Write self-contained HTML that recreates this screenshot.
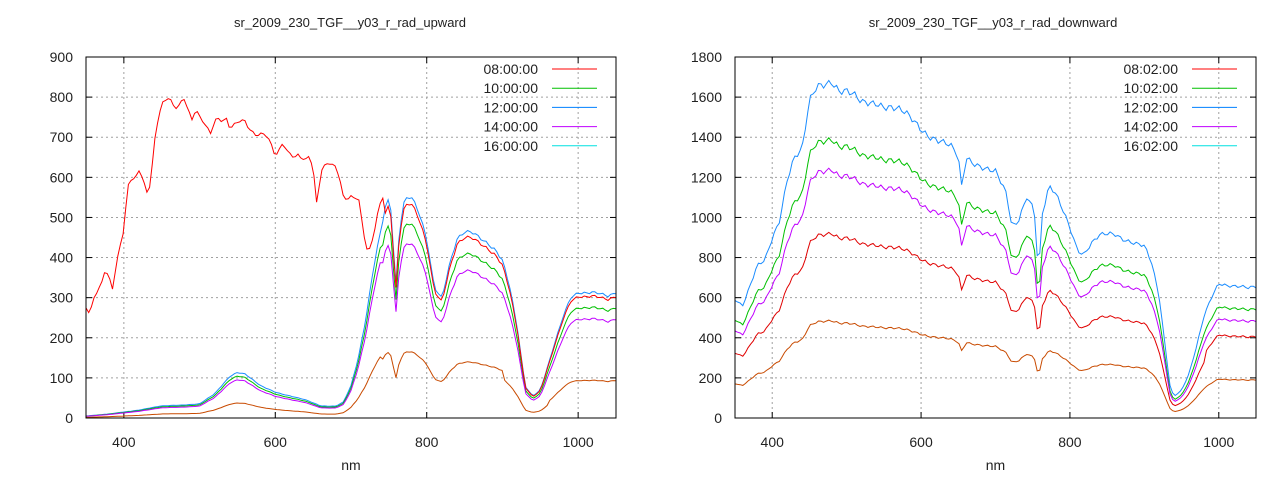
<!DOCTYPE html>
<html><head><meta charset="utf-8"><style>
body{margin:0;background:#fff;}
svg{display:block;font-family:"Liberation Sans",sans-serif;}
</style></head><body>
<svg id="s" width="1280" height="480" xmlns="http://www.w3.org/2000/svg"></svg>
<script>
const S=document.getElementById('s');let h='';
function lerp(arr,x){for(let i=0;i<arr.length-1;i++){if(x>=arr[i][0]&&x<=arr[i+1][0]){const t=(x-arr[i][0])/(arr[i+1][0]-arr[i][0]);return arr[i][1]+t*(arr[i+1][1]-arr[i][1]);}}return arr[arr.length-1][1];}
function noise(x){return Math.sin(x*1.7)*0.6+Math.sin(x*0.53+1)*0.4;}
function plot(o){
 const {x0,x1,y0,y1,ymax,ystep,title,cx}=o;
 const X=v=>x0+(v-350)/(1050-350)*(x1-x0), Y=v=>y1-(v/ymax)*(y1-y0);
 h+=`<text x="${cx}" y="27" font-size="13" text-anchor="middle" fill="#222">${title}</text>`;
 for(let v=0;v<=ymax;v+=ystep){const y=Y(v);
  if(v>0&&v<ymax)h+=`<line x1="${x0}" x2="${x1}" y1="${y}" y2="${y}" stroke="#a0a0a0" stroke-dasharray="2,3"/>`;
  h+=`<line x1="${x0}" x2="${x0+6}" y1="${y}" y2="${y}" stroke="#000"/><line x1="${x1-6}" x2="${x1}" y1="${y}" y2="${y}" stroke="#000"/>`;
  h+=`<text x="${x0-13}" y="${y+5}" font-size="14" text-anchor="end" fill="#222">${v}</text>`;}
 for(let v=400;v<=1000;v+=200){const x=X(v);
  h+=`<line x1="${x}" x2="${x}" y1="${y0}" y2="${y1}" stroke="#a0a0a0" stroke-dasharray="2,3"/>`;
  h+=`<line x1="${x}" x2="${x}" y1="${y1-6}" y2="${y1}" stroke="#000"/><line x1="${x}" x2="${x}" y1="${y0}" y2="${y0+6}" stroke="#000"/>`;
  h+=`<text x="${x}" y="${y1+29}" font-size="14" text-anchor="middle" fill="#222">${v}</text>`;}
 h+=`<text x="${(x0+x1)/2}" y="470" font-size="14" text-anchor="middle" fill="#222">nm</text>`;
 for(const s of o.series){let p=[];for(let w=350;w<=1050;w+=3.5){let v=s.f(w);v=Math.max(0,Math.min(ymax,v));p.push(X(w).toFixed(1)+','+Y(v).toFixed(1));}
  h+=`<polyline points="${p.join(' ')}" fill="none" stroke="${s.c}" stroke-width="1"/>`;}
 const lc=['#ff0000','#00c000','#0080ff','#c000ff','#00e0e0'];
 o.leg.forEach((t,i)=>{const y=69+i*19.2;h+=`<text x="${o.lx}" y="${y+5}" font-size="14" text-anchor="end" fill="#222">${t}</text><line x1="${o.lx+14}" x2="${o.lx+59}" y1="${y}" y2="${y}" stroke="${lc[i]}"/>`;});
 h+=`<rect x="${x0}" y="${y0}" width="${x1-x0}" height="${y1-y0}" fill="none" stroke="#000"/>`;
}
const redL=[[350,280],[355,260],[360,300],[370,330],[375,365],[380,350],[385,320],[390,380],[395,430],[400,470],[405,580],[410,600],[415,600],[420,620],[425,600],[430,560],[435,580],[440,680],[445,740],[450,780],[455,790],[460,800],[465,780],[470,775],[475,790],[480,800],[485,770],[490,745],[495,770],[500,750],[505,735],[510,720],[515,705],[520,740],[525,745],[530,740],[535,750],[540,725],[545,735],[550,740],[555,745],[560,740],[565,720],[570,710],[575,700],[580,705],[585,705],[590,700],[595,680],[600,655],[605,670],[610,690],[615,670],[620,660],[625,650],[630,655],[635,645],[640,640],[645,650],[650,620],[655,525],[660,615],[665,630],[670,640],[675,635],[680,630],[685,600],[690,550],[695,545],[700,550],[705,545],[710,545],[715,480],[720,420],[725,420],[730,460],[735,510],[740,550],[745,560]];
const baseL=[[350,5],[380,10],[400,15],[420,20],[450,30],[500,35],[520,60],[540,105],[550,115],[560,110],[580,80],[600,65],[620,55],[640,45],[660,30],[680,30],[690,40],[700,80],[710,150],[720,250],[730,380],[740,480],[745,530],[750,550],[755,500],[758,280],[762,420],[765,480],[770,530],[775,545],[780,545],[790,510],[800,450],[810,330],[820,300],[830,380],[840,440],[850,460],[860,465],[870,455],[880,440],[890,420],[900,390],[910,320],[920,220],[930,80],[940,55],[950,70],[960,130],[970,190],[980,250],[990,300],[1000,315],[1020,315],[1040,300],[1050,310]];
const bl=w=>lerp(baseL,w)*(1+0.02*noise(w));
plot({x0:86,x1:616,y0:57,y1:418,ymax:900,ystep:100,cx:350,title:'sr_2009_230_TGF__y03_r_rad_upward',lx:538,
 leg:['08:00:00','10:00:00','12:00:00','14:00:00','16:00:00'],
 series:[{c:'#1a8cff',f:bl},{c:'#00c000',f:w=>bl(w)*(w>740?0.88:0.92)},
 {c:'#ff0000',f:w=>w<=742?lerp(redL,w)+6*noise(w):bl(w)*0.97},
 {c:'#c000ff',f:w=>bl(w)*(w>740?0.79:0.84)},
 {c:'#c84a00',f:w=>bl(w)*(w>740?(w>900&&w<960?0.25:0.3):0.33)}]});
const baseR=[[350,600],[360,560],[370,650],[380,750],[390,780],[400,900],[410,1000],[420,1200],[430,1300],[440,1320],[450,1560],[460,1650],[470,1680],[480,1700],[490,1640],[500,1620],[520,1560],[540,1590],[560,1550],[580,1500],[600,1450],[620,1400],[640,1340],[650,1290],[655,1130],[660,1300],[680,1270],[700,1220],[715,1100],[722,950],[730,980],[742,1120],[752,1050],[758,700],[762,1000],[772,1140],[780,1110],[790,1040],[800,960],[810,850],[818,820],[830,870],[840,900],[860,920],[880,890],[900,850],[910,760],[920,600],[930,300],[935,150],[940,110],[950,140],[960,220],[970,350],[980,500],[990,600],[1000,680],[1020,660],[1040,640],[1050,650]];
const br=w=>lerp(baseR,w)*(1+0.025*noise(w));
plot({x0:735,x1:1256,y0:57,y1:418,ymax:1800,ystep:200,cx:993,title:'sr_2009_230_TGF__y03_r_rad_downward',lx:1178,
 leg:['08:02:00','10:02:00','12:02:00','14:02:00','16:02:00'],
 series:[{c:'#1a8cff',f:br},{c:'#00c000',f:w=>br(w)*0.83},{c:'#c000ff',f:w=>br(w)*0.74},
 {c:'#e00000',f:w=>br(w)*(w>980?0.62:0.55)},{c:'#c84a00',f:w=>br(w)*0.29}]});
S.innerHTML=h;
</script>
</body></html>
